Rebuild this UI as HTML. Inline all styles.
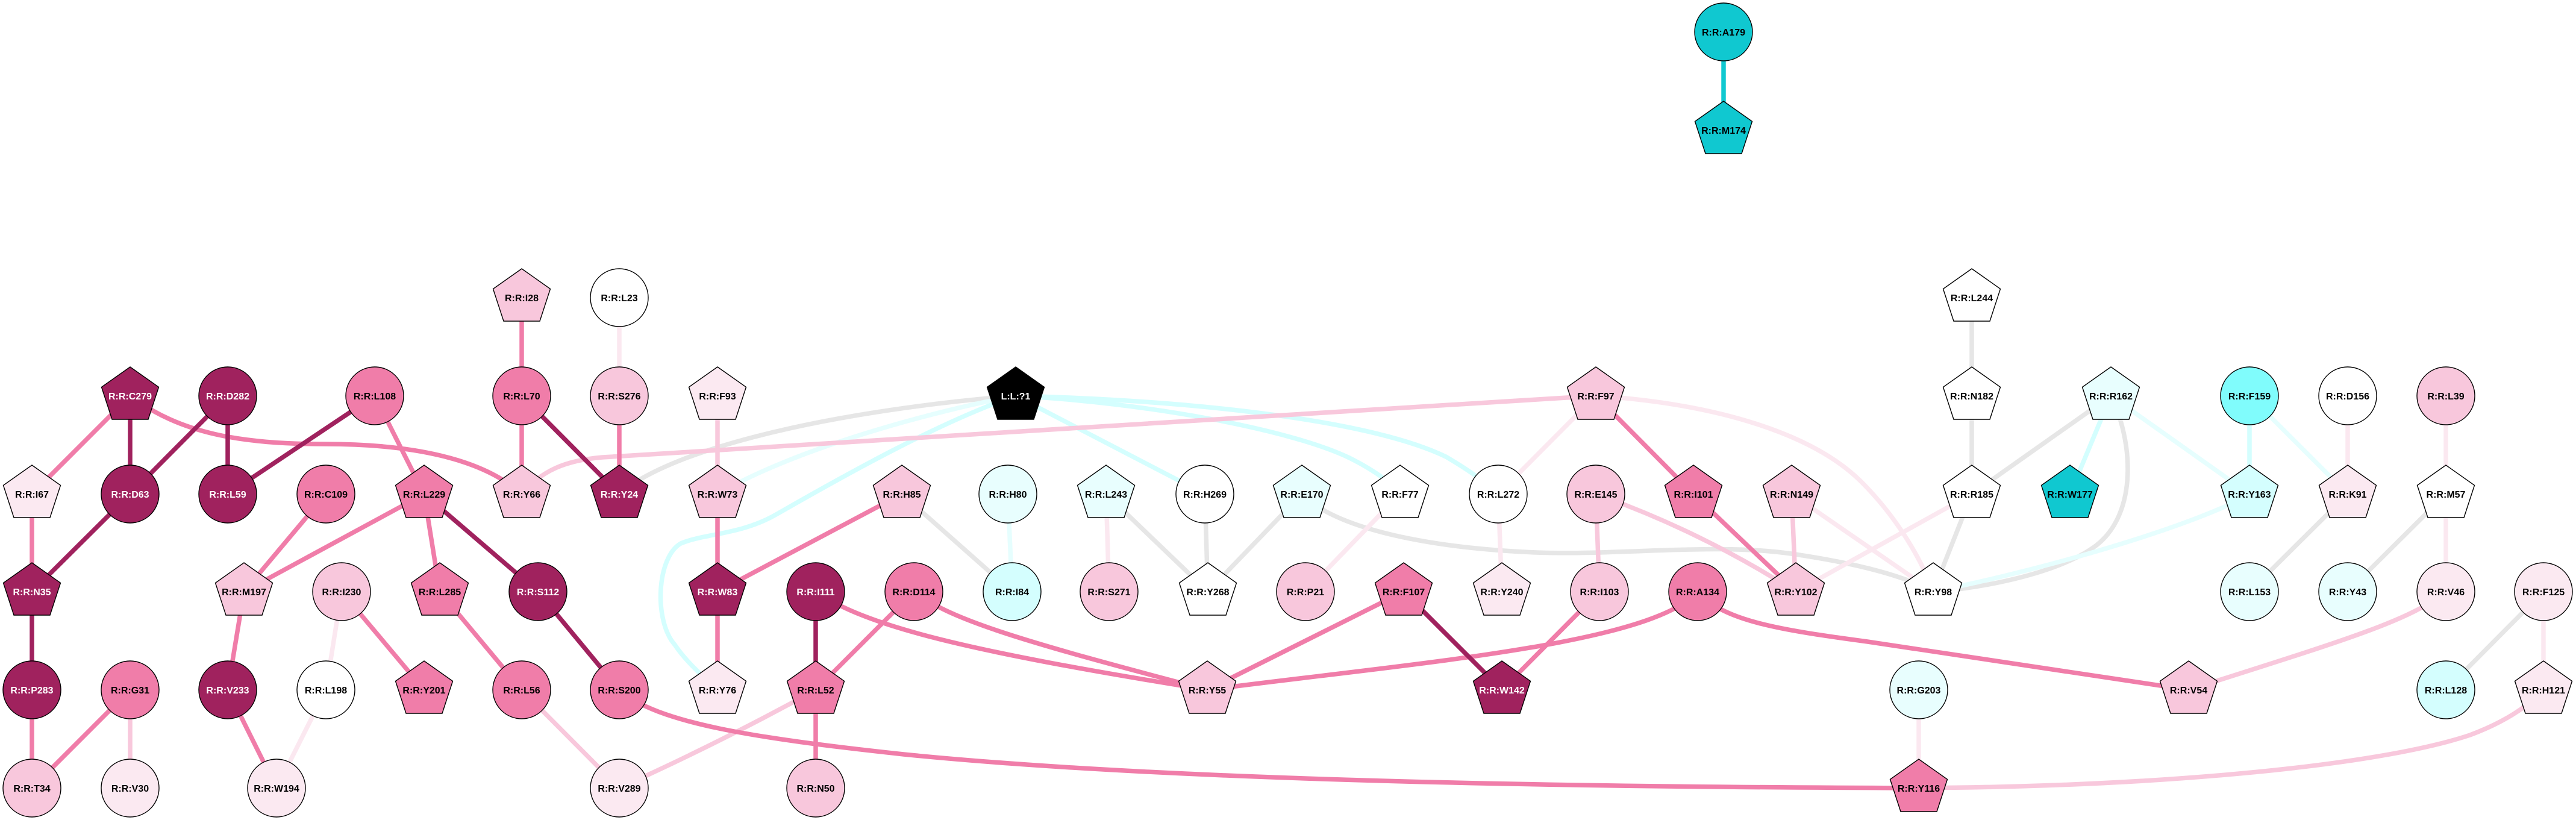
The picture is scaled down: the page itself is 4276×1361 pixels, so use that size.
<!DOCTYPE html>
<html><head><meta charset="utf-8"><style>
html,body{margin:0;padding:0;background:#fff;}
svg{display:block;}
text{font-family:"Liberation Sans",Arial,sans-serif;font-weight:bold;font-size:16px;text-anchor:middle;fill:#000;}
text.w{fill:#fff;}
.e{fill:none;stroke-width:7.5;stroke-linecap:butt;}
.gr{stroke:#e6e6e6}.vc{stroke:#e6fefe}.lc{stroke:#d4fefe}.vp{stroke:#fbe8f0}.lp{stroke:#f8c8dc}.md{stroke:#f07da9}.dk{stroke:#a0225e}.te{stroke:#10c8d0}
.n{stroke:#000;stroke-width:1.4}
</style></head><body>
<svg width="4276" height="1361" viewBox="0 0 4276 1361" xmlns="http://www.w3.org/2000/svg">
<defs><polygon id="p" points="0,-48 47.5,-14.5 30,39 -30,39 -47.5,-14.5"/></defs>
<rect width="4276" height="1361" fill="#fff"/>
<!-- grey edges -->
<g class="e gr">
<path d="M1028 820 C1120 740 1400 680 1686 657"/>
<path d="M1497 820 L1680 982"/>
<path d="M1836 820 L2005 982"/>
<path d="M2000 820 L2005 982"/>
<path d="M2161 820 L2005 982"/>
<path d="M2161 820 C2220 880 2380 910 2550 917 C2700 922 2850 900 2980 920 C3080 935 3160 955 3209 982"/>
<path d="M3273 494 L3273 657"/>
<path d="M3273 657 L3273 820"/>
<path d="M3504 657 L3273 820"/>
<path d="M3273 820 L3209 982"/>
<path d="M3504 657 C3540 730 3550 850 3480 905 C3420 950 3300 975 3209 982"/>
<path d="M3897 820 L3734 982"/>
<path d="M4060 820 L3897 982"/>
<path d="M4222 982 L4060 1145"/>
</g>
<!-- cyan edges -->
<g class="e vc">
<path d="M1673 820 L1680 982"/>
<path d="M3504 657 L3734 820"/>
<path d="M3734 657 L3897 820"/>
<path d="M1686 657 C1560 680 1330 740 1191 820"/>
<path d="M3734 820 C3660 865 3420 940 3209 982"/>
</g>
<g class="e lc">
<path d="M3504 657 L3436 820"/>
<path d="M3734 657 L3734 820"/>
<path d="M1686 657 L2000 820"/>
<path d="M1686 657 C1560 700 1400 790 1290 853 C1230 888 1170 885 1130 902 C1090 925 1085 1030 1120 1070 C1140 1100 1170 1125 1191 1145"/>
<path d="M1686 657 C1900 668 2140 712 2240 760 Q2300 790 2324 820"/>
<path d="M1686 657 C2000 665 2280 700 2400 758 Q2455 790 2487 820"/>
</g>
<path class="e te" d="M2861 53 L2861 216"/>
<!-- very light pink -->
<g class="e vp">
<path d="M567 982 L541 1145"/>
<path d="M541 1145 L459 1308"/>
<path d="M1028 494 L1028 657"/>
<path d="M1836 820 L1841 982"/>
<path d="M2324 820 L2167 982"/>
<path d="M2487 820 L2493 982"/>
<path d="M2649 657 L2487 820"/>
<path d="M2974 820 L3209 982"/>
<path d="M2981 982 L3273 820"/>
<path d="M3185 1145 L3185 1308"/>
<path d="M3897 657 L3897 820"/>
<path d="M4060 657 L4060 820"/>
<path d="M4060 820 L4060 982"/>
<path d="M4222 982 L4222 1145"/>
<path d="M2649 657 C2850 670 3010 720 3090 800 C3150 860 3190 930 3209 982"/>
</g>
<!-- light pink -->
<g class="e lp">
<path d="M216 1145 L216 1308"/>
<path d="M866 1145 L1028 1308"/>
<path d="M1191 657 L1191 820"/>
<path d="M2649 820 L2655 982"/>
<path d="M2974 820 L2981 982"/>
<path d="M866 820 C900 780 940 764 1000 759 L2649 657"/>
<path d="M1028 1308 Q1200 1230 1354 1145"/>
<path d="M2649 820 Q2820 880 2981 982"/>
<path d="M3185 1308 C3600 1305 3950 1270 4100 1220 Q4180 1190 4222 1145"/>
<path d="M4060 982 C4000 1030 3900 1060 3633 1145"/>
</g>
<!-- medium pink -->
<g class="e md">
<path d="M216 657 L53 820"/>
<path d="M53 820 L53 982"/>
<path d="M53 1145 L53 1308"/>
<path d="M216 1145 L53 1308"/>
<path d="M622 657 L704 820"/>
<path d="M541 820 L405 982"/>
<path d="M704 820 L405 982"/>
<path d="M704 820 L730 982"/>
<path d="M405 982 L378 1145"/>
<path d="M378 1145 L459 1308"/>
<path d="M567 982 L704 1145"/>
<path d="M730 982 L866 1145"/>
<path d="M866 494 L866 657"/>
<path d="M866 657 L866 820"/>
<path d="M1028 657 L1028 820"/>
<path d="M1191 820 L1191 982"/>
<path d="M1191 982 L1191 1145"/>
<path d="M1497 820 L1191 982"/>
<path d="M1517 982 L1354 1145"/>
<path d="M1354 1145 L1354 1308"/>
<path d="M2004 1145 L2330 982"/>
<path d="M2649 657 L2811 820"/>
<path d="M2811 820 L2981 982"/>
<path d="M2655 982 L2493 1145"/>
<path d="M216 657 C300 720 400 737 540 737 C680 737 800 760 866 820"/>
<path d="M1354 982 C1440 1040 1600 1080 2004 1145"/>
<path d="M1517 982 C1580 1030 1700 1065 2004 1145"/>
<path d="M2004 1145 C2350 1100 2740 1070 2818 982"/>
<path d="M2818 982 C2860 1030 2950 1045 3100 1065 L3633 1145"/>
<path d="M1028 1145 C1090 1200 1250 1225 1500 1252 C1900 1292 2500 1306 3185 1308"/>
</g>
<!-- dark -->
<g class="e dk">
<path d="M216 657 L216 820"/>
<path d="M378 657 L216 820"/>
<path d="M378 657 L378 820"/>
<path d="M622 657 L378 820"/>
<path d="M216 820 L53 982"/>
<path d="M53 982 L53 1145"/>
<path d="M704 820 L893 982"/>
<path d="M893 982 L1028 1145"/>
<path d="M866 657 L1028 820"/>
<path d="M1354 982 L1354 1145"/>
<path d="M2330 982 L2493 1145"/>
</g>

<!-- nodes -->
<g class="n">
<circle cx="2861" cy="53" r="48" fill="#10c8d0"/>
<use href="#p" x="2861" y="216" fill="#10c8d0"/>

<use href="#p" x="866" y="494" fill="#f8c7dc"/>
<circle cx="1028" cy="494" r="48" fill="#fff"/>
<use href="#p" x="3273" y="494" fill="#fff"/>

<use href="#p" x="216" y="657" fill="#a0225e"/>
<circle cx="378" cy="657" r="48" fill="#a0225e"/>
<circle cx="622" cy="657" r="48" fill="#f07da9"/>
<circle cx="866" cy="657" r="48" fill="#f07da9"/>
<circle cx="1028" cy="657" r="48" fill="#f8c7dc"/>
<use href="#p" x="1191" y="657" fill="#fbe9f1"/>
<use href="#p" x="1686" y="657" fill="#000"/>
<use href="#p" x="2649" y="657" fill="#f8c7dc"/>
<use href="#p" x="3273" y="657" fill="#fff"/>
<use href="#p" x="3504" y="657" fill="#e8fefe"/>
<circle cx="3734" cy="657" r="48" fill="#80fcfc"/>
<circle cx="3897" cy="657" r="48" fill="#fff"/>
<circle cx="4060" cy="657" r="48" fill="#f8c7dc"/>

<use href="#p" x="53" y="820" fill="#fbe9f1"/>
<circle cx="216" cy="820" r="48" fill="#a0225e"/>
<circle cx="378" cy="820" r="48" fill="#a0225e"/>
<circle cx="541" cy="820" r="48" fill="#f07da9"/>
<use href="#p" x="704" y="820" fill="#f07da9"/>
<use href="#p" x="866" y="820" fill="#f8c7dc"/>
<use href="#p" x="1028" y="820" fill="#a0225e"/>
<use href="#p" x="1191" y="820" fill="#f8c7dc"/>
<use href="#p" x="1497" y="820" fill="#f8c7dc"/>
<circle cx="1673" cy="820" r="48" fill="#e8fefe"/>
<use href="#p" x="1836" y="820" fill="#e8fefe"/>
<circle cx="2000" cy="820" r="48" fill="#fff"/>
<use href="#p" x="2161" y="820" fill="#e8fefe"/>
<use href="#p" x="2324" y="820" fill="#fff"/>
<circle cx="2487" cy="820" r="48" fill="#fff"/>
<circle cx="2649" cy="820" r="48" fill="#f8c7dc"/>
<use href="#p" x="2811" y="820" fill="#f07da9"/>
<use href="#p" x="2974" y="820" fill="#f8c7dc"/>
<use href="#p" x="3273" y="820" fill="#fff"/>
<use href="#p" x="3436" y="820" fill="#10c8d0"/>
<use href="#p" x="3734" y="820" fill="#d4fefe"/>
<use href="#p" x="3897" y="820" fill="#fbe9f1"/>
<use href="#p" x="4060" y="820" fill="#fff"/>

<use href="#p" x="53" y="982" fill="#a0225e"/>
<use href="#p" x="405" y="982" fill="#f8c7dc"/>
<circle cx="567" cy="982" r="48" fill="#f8c7dc"/>
<use href="#p" x="730" y="982" fill="#f07da9"/>
<circle cx="893" cy="982" r="48" fill="#a0225e"/>
<use href="#p" x="1191" y="982" fill="#a0225e"/>
<circle cx="1354" cy="982" r="48" fill="#a0225e"/>
<circle cx="1517" cy="982" r="48" fill="#f07da9"/>
<circle cx="1680" cy="982" r="48" fill="#d4fefe"/>
<circle cx="1841" cy="982" r="48" fill="#f8c7dc"/>
<use href="#p" x="2005" y="982" fill="#fff"/>
<circle cx="2167" cy="982" r="48" fill="#f8c7dc"/>
<use href="#p" x="2330" y="982" fill="#f07da9"/>
<use href="#p" x="2493" y="982" fill="#fbe9f1"/>
<circle cx="2655" cy="982" r="48" fill="#f8c7dc"/>
<circle cx="2818" cy="982" r="48" fill="#f07da9"/>
<use href="#p" x="2981" y="982" fill="#f8c7dc"/>
<use href="#p" x="3209" y="982" fill="#fff"/>
<circle cx="3734" cy="982" r="48" fill="#e8fefe"/>
<circle cx="3897" cy="982" r="48" fill="#e8fefe"/>
<circle cx="4060" cy="982" r="48" fill="#fbe9f1"/>
<circle cx="4222" cy="982" r="48" fill="#fbe9f1"/>

<circle cx="53" cy="1145" r="48" fill="#a0225e"/>
<circle cx="216" cy="1145" r="48" fill="#f07da9"/>
<circle cx="378" cy="1145" r="48" fill="#a0225e"/>
<circle cx="541" cy="1145" r="48" fill="#fff"/>
<use href="#p" x="704" y="1145" fill="#f07da9"/>
<circle cx="866" cy="1145" r="48" fill="#f07da9"/>
<circle cx="1028" cy="1145" r="48" fill="#f07da9"/>
<use href="#p" x="1191" y="1145" fill="#fbe9f1"/>
<use href="#p" x="1354" y="1145" fill="#f07da9"/>
<use href="#p" x="2004" y="1145" fill="#f8c7dc"/>
<use href="#p" x="2493" y="1145" fill="#a0225e"/>
<circle cx="3185" cy="1145" r="48" fill="#e8fefe"/>
<use href="#p" x="3633" y="1145" fill="#f8c7dc"/>
<circle cx="4060" cy="1145" r="48" fill="#d4fefe"/>
<use href="#p" x="4222" y="1145" fill="#fbe9f1"/>

<circle cx="53" cy="1308" r="48" fill="#f8c7dc"/>
<circle cx="216" cy="1308" r="48" fill="#fbe9f1"/>
<circle cx="459" cy="1308" r="48" fill="#fbe9f1"/>
<circle cx="1028" cy="1308" r="48" fill="#fbe9f1"/>
<circle cx="1354" cy="1308" r="48" fill="#f8c7dc"/>
<use href="#p" x="3185" y="1308" fill="#f07da9"/>
</g>

<!-- labels -->
<g>
<text x="2861" y="59">R:R:A179</text>
<text x="2861" y="222">R:R:M174</text>

<text x="866" y="500">R:R:I28</text>
<text x="1028" y="500">R:R:L23</text>
<text x="3273" y="500">R:R:L244</text>

<text class="w" x="216" y="663">R:R:C279</text>
<text class="w" x="378" y="663">R:R:D282</text>
<text x="622" y="663">R:R:L108</text>
<text x="866" y="663">R:R:L70</text>
<text x="1028" y="663">R:R:S276</text>
<text x="1191" y="663">R:R:F93</text>
<text class="w" x="1686" y="663">L:L:?1</text>
<text x="2649" y="663">R:R:F97</text>
<text x="3273" y="663">R:R:N182</text>
<text x="3504" y="663">R:R:R162</text>
<text x="3734" y="663">R:R:F159</text>
<text x="3897" y="663">R:R:D156</text>
<text x="4060" y="663">R:R:L39</text>

<text x="53" y="826">R:R:I67</text>
<text class="w" x="216" y="826">R:R:D63</text>
<text class="w" x="378" y="826">R:R:L59</text>
<text x="541" y="826">R:R:C109</text>
<text x="704" y="826">R:R:L229</text>
<text x="866" y="826">R:R:Y66</text>
<text class="w" x="1028" y="826">R:R:Y24</text>
<text x="1191" y="826">R:R:W73</text>
<text x="1497" y="826">R:R:H85</text>
<text x="1673" y="826">R:R:H80</text>
<text x="1836" y="826">R:R:L243</text>
<text x="2000" y="826">R:R:H269</text>
<text x="2161" y="826">R:R:E170</text>
<text x="2324" y="826">R:R:F77</text>
<text x="2487" y="826">R:R:L272</text>
<text x="2649" y="826">R:R:E145</text>
<text x="2811" y="826">R:R:I101</text>
<text x="2974" y="826">R:R:N149</text>
<text x="3273" y="826">R:R:R185</text>
<text x="3436" y="826">R:R:W177</text>
<text x="3734" y="826">R:R:Y163</text>
<text x="3897" y="826">R:R:K91</text>
<text x="4060" y="826">R:R:M57</text>

<text class="w" x="53" y="988">R:R:N35</text>
<text x="405" y="988">R:R:M197</text>
<text x="567" y="988">R:R:I230</text>
<text x="730" y="988">R:R:L285</text>
<text class="w" x="893" y="988">R:R:S112</text>
<text class="w" x="1191" y="988">R:R:W83</text>
<text class="w" x="1354" y="988">R:R:I111</text>
<text x="1517" y="988">R:R:D114</text>
<text x="1680" y="988">R:R:I84</text>
<text x="1841" y="988">R:R:S271</text>
<text x="2005" y="988">R:R:Y268</text>
<text x="2167" y="988">R:R:P21</text>
<text x="2330" y="988">R:R:F107</text>
<text x="2493" y="988">R:R:Y240</text>
<text x="2655" y="988">R:R:I103</text>
<text x="2818" y="988">R:R:A134</text>
<text x="2981" y="988">R:R:Y102</text>
<text x="3209" y="988">R:R:Y98</text>
<text x="3734" y="988">R:R:L153</text>
<text x="3897" y="988">R:R:Y43</text>
<text x="4060" y="988">R:R:V46</text>
<text x="4222" y="988">R:R:F125</text>

<text class="w" x="53" y="1151">R:R:P283</text>
<text x="216" y="1151">R:R:G31</text>
<text class="w" x="378" y="1151">R:R:V233</text>
<text x="541" y="1151">R:R:L198</text>
<text x="704" y="1151">R:R:Y201</text>
<text x="866" y="1151">R:R:L56</text>
<text x="1028" y="1151">R:R:S200</text>
<text x="1191" y="1151">R:R:Y76</text>
<text x="1354" y="1151">R:R:L52</text>
<text x="2004" y="1151">R:R:Y55</text>
<text class="w" x="2493" y="1151">R:R:W142</text>
<text x="3185" y="1151">R:R:G203</text>
<text x="3633" y="1151">R:R:V54</text>
<text x="4060" y="1151">R:R:L128</text>
<text x="4222" y="1151">R:R:H121</text>

<text x="53" y="1314">R:R:T34</text>
<text x="216" y="1314">R:R:V30</text>
<text x="459" y="1314">R:R:W194</text>
<text x="1028" y="1314">R:R:V289</text>
<text x="1354" y="1314">R:R:N50</text>
<text x="3185" y="1314">R:R:Y116</text>
</g>
</svg>
</body></html>
